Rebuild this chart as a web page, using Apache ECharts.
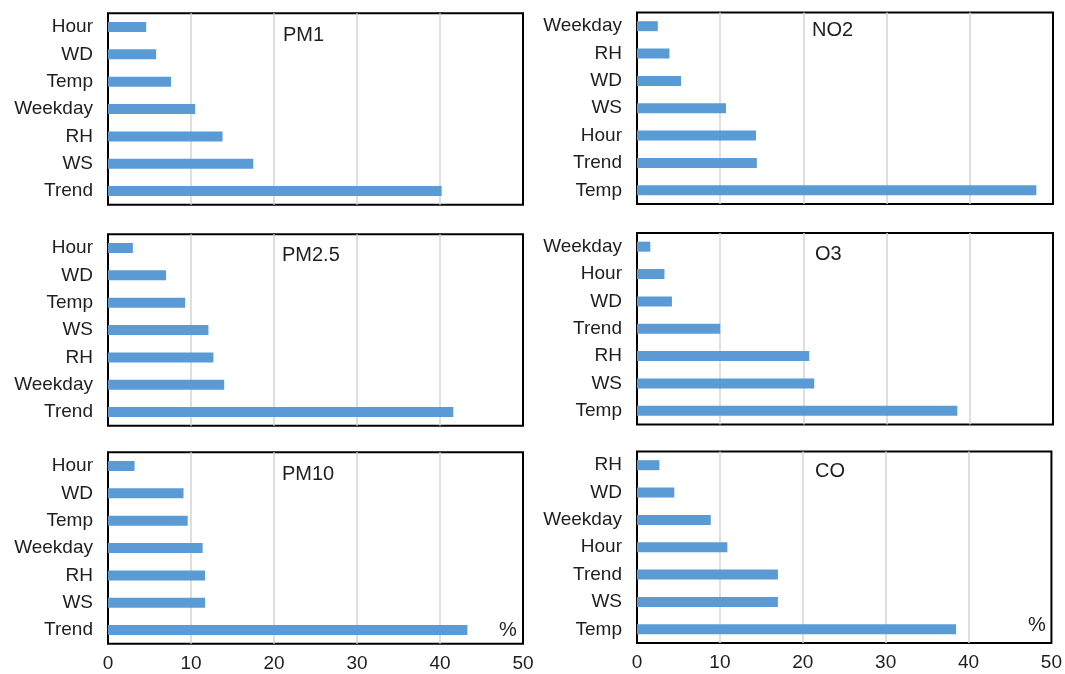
<!DOCTYPE html>
<html>
<head>
<meta charset="utf-8">
<script src="https://cdn.jsdelivr.net/npm/echarts@6/dist/echarts.min.js"></script>
<style>
html,body{margin:0;padding:0;background:#fff;}
#chart{width:1065px;height:674px;}
</style>
</head>
<body>
<div id="chart"></div>
<script>
// ---- data ----
var pm1Cats = ['Hour','WD','Temp','Weekday','RH','WS','Trend'];
var pm1Vals = [4.6, 5.8, 7.6, 10.5, 13.8, 17.5, 40.2];
var no2Cats = ['Weekday','RH','WD','WS','Hour','Trend','Temp'];
var no2Vals = [2.5, 3.9, 5.3, 10.7, 14.3, 14.4, 48.0];
var pm25Cats = ['Hour','WD','Temp','WS','RH','Weekday','Trend'];
var pm25Vals = [3.0, 7.0, 9.3, 12.1, 12.7, 14.0, 41.6];
var o3Cats = ['Weekday','Hour','WD','Trend','RH','WS','Temp'];
var o3Vals = [1.6, 3.3, 4.2, 10.0, 20.7, 21.3, 38.5];
var pm10Cats = ['Hour','WD','Temp','Weekday','RH','WS','Trend'];
var pm10Vals = [3.2, 9.1, 9.6, 11.4, 11.7, 11.7, 43.3];
var coCats = ['RH','WD','Weekday','Hour','Trend','WS','Temp'];
var coVals = [2.7, 4.5, 8.9, 10.9, 17.0, 17.0, 38.5];
var panelNames = ['PM1','NO2','PM2.5','O3','PM10','CO'];
var xTicks = [0, 10, 20, 30, 40, 50];

var panels = [
  {name: panelNames[0], cats: pm1Cats, vals: pm1Vals},
  {name: panelNames[1], cats: no2Cats, vals: no2Vals},
  {name: panelNames[2], cats: pm25Cats, vals: pm25Vals},
  {name: panelNames[3], cats: o3Cats, vals: o3Vals},
  {name: panelNames[4], cats: pm10Cats, vals: pm10Vals},
  {name: panelNames[5], cats: coCats, vals: coVals}
];

// ---- layout ----
var FONT = '"Liberation Sans", Arial, sans-serif';
var TXT = '#1e1e1e';
var colLeft = [108, 637];
var colWidth = [415, 416];
var rowTop = [[13.3, 12.5], [234.3, 233], [452.3, 451.5]];
var gridH = 191.5;
var titlePos = [[283, 25], [812, 20], [282, 245], [815, 244], [282, 464], [815, 461]];

var grids = [], xAxes = [], yAxes = [], series = [], titles = [];
panels.forEach(function (p, i) {
  var col = i % 2, row = Math.floor(i / 2);
  grids.push({
    left: colLeft[col], top: rowTop[row][col], width: colWidth[col], height: gridH,
    show: true, borderColor: '#000', borderWidth: 2, backgroundColor: 'transparent'
  });
  xAxes.push({
    type: 'value', gridIndex: i, min: xTicks[0], max: xTicks[xTicks.length - 1], interval: 10,
    axisLine: {show: false}, axisTick: {show: false},
    splitLine: {show: true, showMinLine: false, showMaxLine: false, lineStyle: {color: '#d4d4d4', width: 1.5}},
    axisLabel: {show: row === 2, fontSize: 19, color: TXT, fontFamily: FONT, margin: 10}
  });
  yAxes.push({
    type: 'category', gridIndex: i, data: p.cats, inverse: true,
    axisLine: {show: false}, axisTick: {show: false},
    axisLabel: {fontSize: 19, color: TXT, fontFamily: FONT, margin: 15}
  });
  series.push({
    type: 'bar', xAxisIndex: i, yAxisIndex: i, data: p.vals, barWidth: 10,
    itemStyle: {color: '#5b9bd5'}, silent: true, z: 1
  });
  titles.push({
    text: p.name, left: titlePos[i][0], top: titlePos[i][1], padding: 0,
    textStyle: {fontSize: 20, fontWeight: 'normal', color: TXT, fontFamily: FONT}
  });
});
titles.push({text: '%', left: 499, top: 620, padding: 0, textStyle: {fontSize: 20, fontWeight: 'normal', color: TXT, fontFamily: FONT}});
titles.push({text: '%', left: 1028, top: 615, padding: 0, textStyle: {fontSize: 20, fontWeight: 'normal', color: TXT, fontFamily: FONT}});

var chart = echarts.init(document.getElementById('chart'), null, {renderer: 'canvas'});
chart.setOption({
  animation: false,
  backgroundColor: '#fff',
  title: titles,
  grid: grids,
  xAxis: xAxes,
  yAxis: yAxes,
  series: series
});
</script>
</body>
</html>
